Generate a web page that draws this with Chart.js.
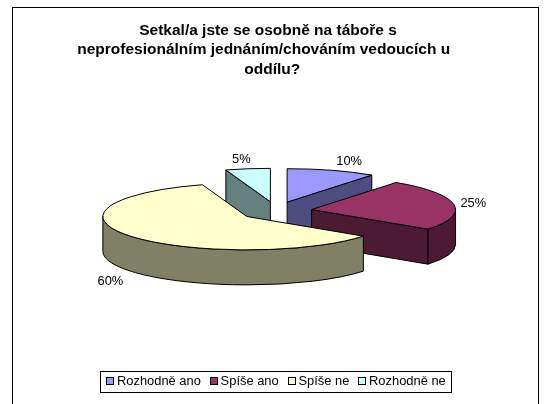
<!DOCTYPE html>
<html><head><meta charset="utf-8">
<style>html,body{margin:0;padding:0;background:#fff}#w{width:544px;height:404px;position:relative}</style>
<script src="https://cdn.jsdelivr.net/npm/chart.js@4/dist/chart.umd.min.js"></script>
</head><body><div id="w"><canvas id="c"></canvas></div>
<script>
const titleLines = ["Setkal/a jste se osobně na táboře s", "neprofesionálním jednáním/chováním vedoucích u  ", "  oddílu?"];
const categories = ["Rozhodně ano", "Spíše ano", "Spíše ne", "Rozhodně ne"];
const values = [10, 25, 60, 5];
const topColors = ["#9999FF", "#993366", "#FFFFCC", "#CCFFFF"];
const sideColors = ["#4D4D80", "#4D1A33", "#808066", "#668080"];

const CX = 276, CY = 211, RX = 144, RY = 33.4, DEPTH = 35, EXPLODE = 36, EXPLODE_TILT = 0.26;
const drawOrder = [3, 0, 1, 2];
const labelNudge = [[17.5, -8.5], [19.5, -0.5], [-20, 45], [-6.5, -9]];
const LEGEND_FONT = 12.9;

const pie3d = {
  id: 'pie3d',
  afterLayout(chart) {
    chart.titleBlock.left -= 8; chart.titleBlock.right -= 8;
  },
  beforeDraw(chart) {
    const ctx = chart.ctx;
    ctx.save();
    ctx.fillStyle = '#fff'; ctx.fillRect(0, 0, chart.width, chart.height);
    ctx.strokeStyle = '#000'; ctx.lineWidth = 1;
    ctx.strokeRect(12.5, 7.5, 526, 420);
    const hb = chart.legend.legendHitBoxes;
    const l = hb[0].left - 6, r = hb[hb.length - 1].left + hb[hb.length - 1].width + 6;
    const m = hb[0].top + hb[0].height / 2;
    ctx.strokeRect(Math.round(l) + .5, Math.round(m - 11) + .5, Math.round(r - l), 21);
    hb.forEach((b, i) => {
      ctx.fillStyle = topColors[i];
      const x = Math.round(b.left) + .5, y = Math.round(m - 3.5) - .5;
      ctx.fillRect(x, y, 7, 7); ctx.strokeRect(x, y, 7, 7);
    });
    ctx.restore();
  },
  beforeDatasetsDraw(chart) {
    const ctx = chart.ctx, arcs = chart.getDatasetMeta(0).data;
    ctx.save();
    ctx.lineWidth = 1; ctx.strokeStyle = '#000'; ctx.lineJoin = 'round';
    const tot = values.reduce((a, b) => a + b, 0);
    const geo = arcs.map(a => {
      const mid = (a.startAngle + a.endAngle) / 2;
      return { s: a.startAngle, e: a.endAngle, mid,
        x: CX + EXPLODE * Math.cos(mid), y: CY + EXPLODE * EXPLODE_TILT * Math.sin(mid) };
    });
    const pt = (g, t) => [g.x + RX * Math.cos(t), g.y + RY * Math.sin(t)];
    const paint = (fill) => { ctx.fillStyle = fill; ctx.fill(); ctx.stroke(); };
    for (const i of drawOrder) {
      const g = geo[i];
      // radial side faces turned towards the viewer
      const faces = [[g.s, Math.cos(g.s) < -1e-6], [g.e, Math.cos(g.e) > 1e-6]];
      for (const [t, front] of faces) {
        if (!front) continue;
        const [px, py] = pt(g, t);
        ctx.beginPath();
        ctx.moveTo(g.x, g.y); ctx.lineTo(px, py); ctx.lineTo(px, py + DEPTH); ctx.lineTo(g.x, g.y + DEPTH); ctx.closePath();
        paint(sideColors[i]);
      }
      // outer rim: only the front half of the ellipse
      for (const k of [0, 1]) {
        const lo = Math.max(g.s, k * 2 * Math.PI), hi = Math.min(g.e, Math.PI + k * 2 * Math.PI);
        if (hi <= lo) continue;
        ctx.beginPath();
        ctx.ellipse(g.x, g.y, RX, RY, 0, lo, hi);
        ctx.ellipse(g.x, g.y + DEPTH, RX, RY, 0, hi, lo, true);
        ctx.closePath();
        paint(sideColors[i]);
      }
      // top face
      ctx.beginPath();
      ctx.moveTo(g.x, g.y);
      ctx.ellipse(g.x, g.y, RX, RY, 0, g.s, g.e);
      ctx.closePath();
      paint(topColors[i]);
    }
    // percentage labels
    ctx.fillStyle = '#000'; ctx.font = LEGEND_FONT + 'px "Liberation Sans"';
    ctx.textAlign = 'center'; ctx.textBaseline = 'middle';
    geo.forEach((g, i) => {
      const [px, py] = pt(g, g.mid);
      ctx.fillText(Math.round(values[i] / tot * 100) + '%', px + labelNudge[i][0], py + labelNudge[i][1]);
    });
    ctx.restore();
    return false;
  }
};

Chart.defaults.font.family = '"Liberation Sans"';
new Chart(document.getElementById('c'), {
  type: 'pie',
  data: { labels: categories, datasets: [{
    data: values, backgroundColor: topColors, borderColor: '#000', borderWidth: 1
  }]},
  options: {
    responsive: true, maintainAspectRatio: false, animation: false,
    events: [],
    layout: { padding: { left: 8, bottom: 6 } },
    plugins: {
      tooltip: { enabled: false },
      title: { display: true, text: titleLines, color: '#000',
        font: { size: 15.5, weight: 'bold', lineHeight: 1.245 }, padding: { top: 21, bottom: 10 } },
      legend: { position: 'bottom', onClick: null,
        labels: { color: '#000', boxWidth: 4.3, boxHeight: 7, padding: 9, font: { size: LEGEND_FONT },
          generateLabels: (chart) => Chart.overrides.pie.plugins.legend.labels.generateLabels(chart)
            .map(it => ({ ...it, fillStyle: 'transparent', strokeStyle: 'transparent', lineWidth: 0 })) } }
    }
  },
  plugins: [pie3d]
});
</script></body></html>
